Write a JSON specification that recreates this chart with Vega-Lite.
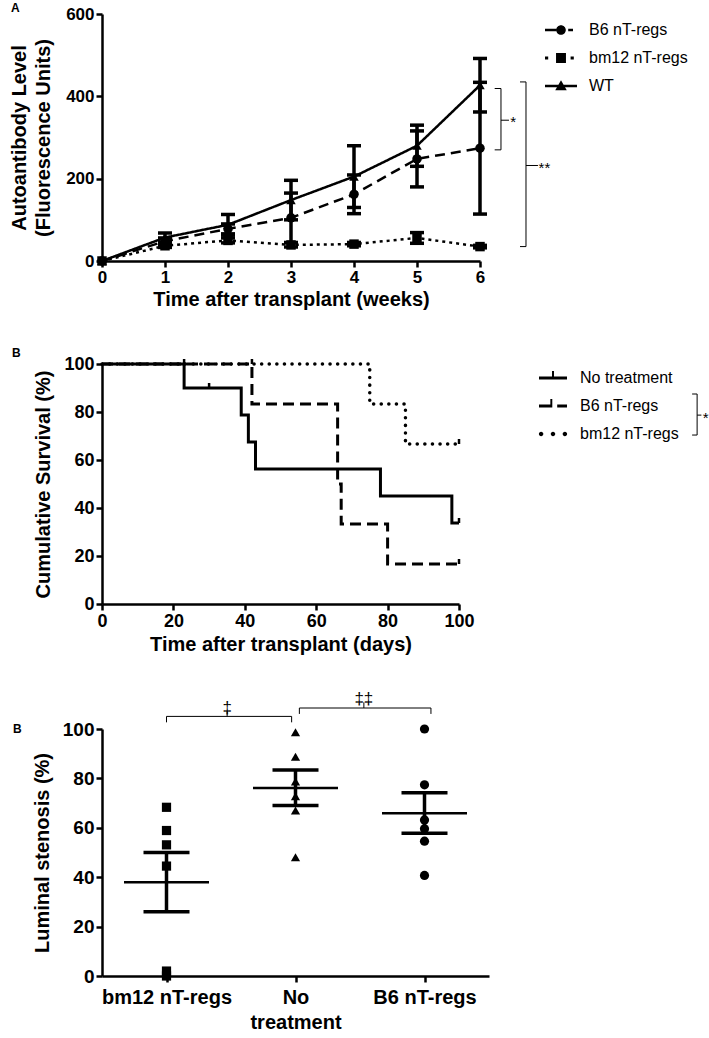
{
  "$schema": "https://vega.github.io/schema/vega-lite/v6.json",
  "background": "white",
  "padding": {"left": 9, "top": 2, "right": 0, "bottom": 5},
  "spacing": 38,
  "resolve": {"scale": {"shape": "independent", "strokeDash": "independent"}, "legend": {"shape": "independent"}},
  "config": {
    "font": "Liberation Sans",
    "view": {"stroke": null},
    "axis": {
      "domainColor": "black", "domainWidth": 2.5, "tickColor": "black", "tickWidth": 2.5, "tickSize": 6,
      "labelColor": "black", "labelFont": "Liberation Sans", "labelFontWeight": "bold", "labelPadding": 2,
      "titleFont": "Liberation Sans", "titleFontWeight": "bold", "titleColor": "black", "titleFontSize": 20,
      "grid": false, "labelFlush": false, "labelOverlap": false
    },
    "legend": {"labelFont": "Liberation Sans", "labelColor": "black", "labelFontSize": 16, "padding": 0, "labelLimit": 300}
  },
  "datasets": {
    "A": [
      {"group": "B6 nT-regs", "week": 0, "mean": 0, "lo": null, "hi": null},
      {"group": "B6 nT-regs", "week": 1, "mean": 48, "lo": 40, "hi": 56},
      {"group": "B6 nT-regs", "week": 2, "mean": 78, "lo": 66, "hi": 90},
      {"group": "B6 nT-regs", "week": 3, "mean": 105, "lo": 45, "hi": 165},
      {"group": "B6 nT-regs", "week": 4, "mean": 162, "lo": 115, "hi": 209},
      {"group": "B6 nT-regs", "week": 5, "mean": 248, "lo": 180, "hi": 316},
      {"group": "B6 nT-regs", "week": 6, "mean": 274, "lo": 114, "hi": 434},
      {"group": "bm12 nT-regs", "week": 0, "mean": 0, "lo": null, "hi": null},
      {"group": "bm12 nT-regs", "week": 1, "mean": 37, "lo": 33, "hi": 41},
      {"group": "bm12 nT-regs", "week": 2, "mean": 50, "lo": 44, "hi": 56},
      {"group": "bm12 nT-regs", "week": 3, "mean": 39, "lo": 34, "hi": 44},
      {"group": "bm12 nT-regs", "week": 4, "mean": 41, "lo": 37, "hi": 45},
      {"group": "bm12 nT-regs", "week": 5, "mean": 56, "lo": 43, "hi": 69},
      {"group": "bm12 nT-regs", "week": 6, "mean": 35, "lo": 32, "hi": 38},
      {"group": "WT", "week": 0, "mean": 0, "lo": null, "hi": null},
      {"group": "WT", "week": 1, "mean": 57, "lo": 46, "hi": 68},
      {"group": "WT", "week": 2, "mean": 88, "lo": 63, "hi": 113},
      {"group": "WT", "week": 3, "mean": 148, "lo": 100, "hi": 196},
      {"group": "WT", "week": 4, "mean": 205, "lo": 130, "hi": 280},
      {"group": "WT", "week": 5, "mean": 280, "lo": 230, "hi": 330},
      {"group": "WT", "week": 6, "mean": 427, "lo": 362, "hi": 492}
    ],
    "annA": [
      {"x": 6.233, "x2": 6.333, "y": 419, "y2": 419},
      {"x": 6.333, "x2": 6.333, "y": 419, "y2": 270},
      {"x": 6.233, "x2": 6.333, "y": 270, "y2": 270},
      {"x": 6.333, "x2": 6.46, "y": 342, "y2": 342},
      {"x": 6.635, "x2": 6.73, "y": 435, "y2": 435},
      {"x": 6.73, "x2": 6.73, "y": 435, "y2": 35},
      {"x": 6.635, "x2": 6.73, "y": 35, "y2": 35},
      {"x": 6.73, "x2": 6.92, "y": 232, "y2": 232}
    ],
    "annAtext": [
      {"x": 6.48, "y": 337, "label": "*"},
      {"x": 6.93, "y": 227, "label": "**"}
    ],
    "B": [
      {"group": "No treatment", "day": 0, "surv": 100},
      {"group": "No treatment", "day": 23, "surv": 90},
      {"group": "No treatment", "day": 39, "surv": 78.75},
      {"group": "No treatment", "day": 41, "surv": 67.5},
      {"group": "No treatment", "day": 43, "surv": 56.25},
      {"group": "No treatment", "day": 78, "surv": 45},
      {"group": "No treatment", "day": 98, "surv": 33.75},
      {"group": "No treatment", "day": 100, "surv": 33.75},
      {"group": "B6 nT-regs", "day": 0, "surv": 100},
      {"group": "B6 nT-regs", "day": 42, "surv": 83.33},
      {"group": "B6 nT-regs", "day": 66, "surv": 50},
      {"group": "B6 nT-regs", "day": 67, "surv": 33.33},
      {"group": "B6 nT-regs", "day": 80, "surv": 16.67},
      {"group": "B6 nT-regs", "day": 100, "surv": 16.67},
      {"group": "bm12 nT-regs", "day": 0, "surv": 100},
      {"group": "bm12 nT-regs", "day": 75, "surv": 83.33},
      {"group": "bm12 nT-regs", "day": 85, "surv": 66.67},
      {"group": "bm12 nT-regs", "day": 100, "surv": 66.67}
    ],
    "Bcens": [
      {"group": "No treatment", "day": 23, "surv": 100},
      {"group": "No treatment", "day": 30, "surv": 90},
      {"group": "No treatment", "day": 100, "surv": 33.75},
      {"group": "B6 nT-regs", "day": 42, "surv": 100},
      {"group": "B6 nT-regs", "day": 100, "surv": 16.67},
      {"group": "bm12 nT-regs", "day": 100, "surv": 66.67}
    ],
    "annB": [
      {"x": 165.3, "x2": 166.7, "y": 87.5, "y2": 87.5},
      {"x": 166.7, "x2": 166.7, "y": 87.5, "y2": 70.4},
      {"x": 165.3, "x2": 166.7, "y": 70.4, "y2": 70.4},
      {"x": 166.7, "x2": 167.9, "y": 78.7, "y2": 78.7}
    ],
    "annBtext": [
      {"x": 168.3, "y": 77.7, "label": "*"}
    ],
    "C": [
      {"group": "bm12 nT-regs", "pos": 1, "value": 68.3},
      {"group": "bm12 nT-regs", "pos": 1, "value": 58.9},
      {"group": "bm12 nT-regs", "pos": 1, "value": 53.1},
      {"group": "bm12 nT-regs", "pos": 1, "value": 44.5},
      {"group": "bm12 nT-regs", "pos": 1, "value": 0},
      {"group": "bm12 nT-regs", "pos": 1, "value": 2},
      {"group": "No treatment", "pos": 2, "value": 98.7},
      {"group": "No treatment", "pos": 2, "value": 88.8},
      {"group": "No treatment", "pos": 2, "value": 78.7},
      {"group": "No treatment", "pos": 2, "value": 72.8},
      {"group": "No treatment", "pos": 2, "value": 67},
      {"group": "No treatment", "pos": 2, "value": 48.1},
      {"group": "B6 nT-regs", "pos": 3, "value": 100},
      {"group": "B6 nT-regs", "pos": 3, "value": 77.4},
      {"group": "B6 nT-regs", "pos": 3, "value": 63.2},
      {"group": "B6 nT-regs", "pos": 3, "value": 59.6},
      {"group": "B6 nT-regs", "pos": 3, "value": 54.6},
      {"group": "B6 nT-regs", "pos": 3, "value": 40.7}
    ],
    "Csum": [
      {"group": "bm12 nT-regs", "pos": 1, "mean": 38, "lo": 26, "hi": 50},
      {"group": "No treatment", "pos": 2, "mean": 76.1, "lo": 69, "hi": 83.4},
      {"group": "B6 nT-regs", "pos": 3, "mean": 65.9, "lo": 57.8, "hi": 74.2}
    ],
    "annC": [
      {"x": 1.0, "x2": 1.97, "y": 105.1, "y2": 105.1},
      {"x": 1.0, "x2": 1.0, "y": 105.1, "y2": 102.7},
      {"x": 1.97, "x2": 1.97, "y": 105.1, "y2": 102.7},
      {"x": 1.47, "x2": 1.47, "y": 105.1, "y2": 107.2},
      {"x": 2.03, "x2": 3.05, "y": 108.5, "y2": 108.5},
      {"x": 2.03, "x2": 2.03, "y": 108.5, "y2": 106.1},
      {"x": 3.05, "x2": 3.05, "y": 108.5, "y2": 106.1},
      {"x": 2.53, "x2": 2.53, "y": 108.5, "y2": 110.8}
    ],
    "annCtext": [
      {"x": 1.47, "y": 106.5, "label": "‡"},
      {"x": 2.53, "y": 110.3, "label": "‡‡"}
    ]
  },
  "vconcat": [
    {
      "width": 378,
      "height": 247,
      "title": {"text": "A", "anchor": "start", "frame": "group", "dx": -91, "dy": 10, "offset": 0, "fontSize": 12, "fontWeight": "bold", "color": "black", "font": "Liberation Sans"},
      "resolve": {"scale": {"shape": "independent"}, "legend": {"shape": "independent"}},
      "layer": [
        {
          "data": {"name": "A"},
          "mark": {"type": "line", "strokeWidth": 2.5, "color": "black"},
          "encoding": {
            "x": {"field": "week", "type": "quantitative", "scale": {"domain": [0, 6], "nice": false},
                  "axis": {"values": [0, 1, 2, 3, 4, 5, 6], "format": "d", "labelFontSize": 17, "titlePadding": 4}, "title": "Time after transplant (weeks)"},
            "y": {"field": "mean", "type": "quantitative", "scale": {"domain": [0, 600], "nice": false},
                  "axis": {"values": [0, 200, 400, 600], "labelFontSize": 17, "titlePadding": 12, "titleLineHeight": 24}, "title": ["Autoantibody Level", "(Fluorescence Units)"]},
            "strokeDash": {"field": "group", "type": "nominal",
                           "scale": {"domain": ["B6 nT-regs", "bm12 nT-regs", "WT"], "range": [[10, 6], [3, 4], [1, 0]]}, "legend": null}
          }
        },
        {
          "data": {"name": "A"},
          "mark": {"type": "rule", "strokeWidth": 3.5, "color": "black"},
          "encoding": {
            "x": {"field": "week", "type": "quantitative"},
            "y": {"field": "lo", "type": "quantitative"},
            "y2": {"field": "hi"}
          }
        },
        {
          "data": {"name": "A"},
          "mark": {"type": "tick", "orient": "horizontal", "size": 14, "thickness": 3.5, "color": "black", "opacity": 1},
          "encoding": {"x": {"field": "week", "type": "quantitative"}, "y": {"field": "hi", "type": "quantitative"}}
        },
        {
          "data": {"name": "A"},
          "mark": {"type": "tick", "orient": "horizontal", "size": 14, "thickness": 3.5, "color": "black", "opacity": 1},
          "encoding": {"x": {"field": "week", "type": "quantitative"}, "y": {"field": "lo", "type": "quantitative"}}
        },
        {
          "data": {"name": "A"},
          "mark": {"type": "point", "filled": true, "opacity": 1, "color": "black", "size": 90},
          "encoding": {
            "x": {"field": "week", "type": "quantitative"},
            "y": {"field": "mean", "type": "quantitative"},
            "shape": {"field": "group", "type": "nominal", "scale": {"domain": ["B6 nT-regs", "bm12 nT-regs", "WT"], "range": ["circle", "square", "triangle-up"]}, "legend": null}
          }
        },
        {
          "data": {"name": "A"},
          "transform": [{"filter": "datum.week === 0"}],
          "mark": {"type": "point", "filled": true, "opacity": 0, "color": "black"},
          "encoding": {
            "x": {"field": "week", "type": "quantitative"},
            "y": {"field": "mean", "type": "quantitative"},
            "shape": {"field": "group", "type": "nominal",
                      "scale": {"domain": ["B6 nT-regs", "bm12 nT-regs", "WT"],
                                "range": ["M-1,-0.08H-0.3V0.08H-1ZM0.3,0A0.3,0.3,0,1,1,-0.3,0A0.3,0.3,0,1,1,0.3,0ZM0.45,-0.08H0.75V0.08H0.45Z",
                                          "M-1,-0.09H-0.8V0.09H-1ZM-0.31,-0.31H0.31V0.31H-0.31ZM0.6,-0.09H0.8V0.09H0.6Z",
                                          "M-1,-0.08H1V0.08H-1ZM0,-0.36L0.36,0.26L-0.36,0.26Z"]},
                      "legend": {"title": null, "orient": "right", "offset": 60, "symbolSize": 1024, "labelOffset": 12, "rowPadding": 4,
                                 "symbolOpacity": 1, "symbolFillColor": "black", "symbolStrokeWidth": 0}}
          }
        },
        {
          "data": {"name": "annA"},
          "mark": {"type": "rule", "strokeWidth": 1, "color": "black"},
          "encoding": {
            "x": {"field": "x", "type": "quantitative"}, "x2": {"field": "x2"},
            "y": {"field": "y", "type": "quantitative"}, "y2": {"field": "y2"}
          }
        },
        {
          "data": {"name": "annAtext"},
          "mark": {"type": "text", "align": "left", "baseline": "middle", "fontSize": 15, "font": "Liberation Sans", "color": "black"},
          "encoding": {
            "x": {"field": "x", "type": "quantitative"},
            "y": {"field": "y", "type": "quantitative"},
            "text": {"field": "label"}
          }
        }
      ]
    },
    {
      "spacing": 35,
      "resolve": {"scale": {"shape": "independent", "strokeDash": "independent"}, "legend": {"shape": "independent"}},
      "vconcat": [
        {
          "width": 357,
          "height": 240,
          "title": {"text": "B", "anchor": "start", "frame": "group", "dx": -90, "dy": 6, "offset": 0, "fontSize": 12, "fontWeight": "bold", "color": "black", "font": "Liberation Sans"},
          "layer": [
            {
              "data": {"name": "B"},
              "transform": [{"filter": "datum.group !== 'bm12 nT-regs'"}],
              "mark": {"type": "line", "interpolate": "step-after", "strokeWidth": 3, "strokeCap": "butt", "color": "black"},
              "encoding": {
                "x": {"field": "day", "type": "quantitative", "scale": {"domain": [0, 100], "nice": false},
                      "axis": {"values": [0, 20, 40, 60, 80, 100], "labelFontSize": 18, "titlePadding": 4}, "title": "Time after transplant (days)"},
                "y": {"field": "surv", "type": "quantitative", "scale": {"domain": [0, 100], "nice": false},
                      "axis": {"values": [0, 20, 40, 60, 80, 100], "labelFontSize": 18, "titlePadding": 10}, "title": "Cumulative Survival (%)"},
                "strokeDash": {"field": "group", "type": "nominal",
                               "scale": {"domain": ["No treatment", "B6 nT-regs"], "range": [[1, 0], [11, 6]]}, "legend": null}
              }
            },
            {
              "data": {"name": "B"},
              "transform": [{"filter": "datum.group === 'bm12 nT-regs'"}],
              "mark": {"type": "line", "interpolate": "step-after", "strokeWidth": 3.5, "strokeCap": "round", "strokeDash": [0.1, 7.5], "color": "black"},
              "encoding": {
                "x": {"field": "day", "type": "quantitative"},
                "y": {"field": "surv", "type": "quantitative"}
              }
            },
            {
              "data": {"name": "Bcens"},
              "mark": {"type": "point", "shape": "M0,0L0,-1", "size": 100, "strokeWidth": 2.5, "color": "black", "filled": false, "opacity": 1},
              "encoding": {
                "x": {"field": "day", "type": "quantitative"},
                "y": {"field": "surv", "type": "quantitative"}
              }
            },
            {
              "data": {"name": "B"},
              "transform": [{"filter": "datum.day === 0"}],
              "mark": {"type": "point", "filled": true, "opacity": 0, "color": "black"},
              "encoding": {
                "x": {"field": "day", "type": "quantitative"},
                "y": {"field": "surv", "type": "quantitative"},
                "shape": {"field": "group", "type": "nominal",
                          "scale": {"domain": ["No treatment", "B6 nT-regs", "bm12 nT-regs"],
                                    "range": ["M-1,-0.1H1V0.1H-1ZM-0.07,0V-0.5H0.07V0Z",
                                              "M-1,-0.1H-0.05V0.1H-1ZM-0.19,0V-0.5H-0.05V0ZM0.3,-0.1H1V0.1H0.3Z",
                                              "M-0.69,0A0.16,0.16,0,1,1,-1.01,0A0.16,0.16,0,1,1,-0.69,0ZM0.16,0A0.16,0.16,0,1,1,-0.16,0A0.16,0.16,0,1,1,0.16,0ZM1.01,0A0.16,0.16,0,1,1,0.69,0A0.16,0.16,0,1,1,1.01,0Z"]},
                          "legend": {"title": null, "orient": "right", "offset": 74, "symbolSize": 784, "labelOffset": 13, "rowPadding": 6,
                                     "symbolOpacity": 1, "symbolFillColor": "black", "symbolStrokeWidth": 0}}
              }
            },
            {
              "data": {"name": "annB"},
              "mark": {"type": "rule", "strokeWidth": 1, "color": "black"},
              "encoding": {
                "x": {"field": "x", "type": "quantitative"}, "x2": {"field": "x2"},
                "y": {"field": "y", "type": "quantitative"}, "y2": {"field": "y2"}
              }
            },
            {
              "data": {"name": "annBtext"},
              "mark": {"type": "text", "align": "left", "baseline": "middle", "fontSize": 15, "font": "Liberation Sans", "color": "black"},
              "encoding": {
                "x": {"field": "x", "type": "quantitative"},
                "y": {"field": "y", "type": "quantitative"},
                "text": {"field": "label"}
              }
            }
          ]
        },
        {
          "width": 387,
          "height": 247,
          "title": {"text": "B", "anchor": "start", "frame": "group", "dx": -89, "dy": 46, "offset": 0, "fontSize": 12, "fontWeight": "bold", "color": "black", "font": "Liberation Sans"},
          "layer": [
            {
              "data": {"name": "annC"},
              "mark": {"type": "rule", "strokeWidth": 1, "color": "black"},
              "encoding": {
                "x": {"field": "x", "type": "quantitative", "scale": {"domain": [0.5, 3.5], "nice": false},
                      "axis": {"values": [1, 2, 3], "labelFontSize": 20, "labelLineHeight": 25, "labelPadding": 5, "labelExpr": "datum.value == 1 ? 'bm12 nT-regs' : datum.value == 2 ? ['No', 'treatment'] : 'B6 nT-regs'"}, "title": null},
                "x2": {"field": "x2"},
                "y": {"field": "y", "type": "quantitative", "scale": {"domain": [0, 100], "nice": false},
                      "axis": {"values": [0, 20, 40, 60, 80, 100], "labelFontSize": 19, "titlePadding": 10}, "title": "Luminal stenosis (%)"},
                "y2": {"field": "y2"}
              }
            },
            {
              "data": {"name": "annCtext"},
              "mark": {"type": "text", "align": "center", "baseline": "alphabetic", "fontSize": 17, "font": "Liberation Sans", "color": "black"},
              "encoding": {
                "x": {"field": "x", "type": "quantitative"},
                "y": {"field": "y", "type": "quantitative"},
                "text": {"field": "label"}
              }
            },
            {
              "data": {"name": "Csum"},
              "mark": {"type": "rule", "strokeWidth": 3.5, "color": "black"},
              "encoding": {
                "x": {"field": "pos", "type": "quantitative"},
                "y": {"field": "lo", "type": "quantitative"},
                "y2": {"field": "hi"}
              }
            },
            {
              "data": {"name": "Csum"},
              "mark": {"type": "tick", "orient": "horizontal", "size": 85, "thickness": 2.5, "color": "black", "opacity": 1},
              "encoding": {"x": {"field": "pos", "type": "quantitative"}, "y": {"field": "mean", "type": "quantitative"}}
            },
            {
              "data": {"name": "Csum"},
              "mark": {"type": "tick", "orient": "horizontal", "size": 46, "thickness": 3.5, "color": "black", "opacity": 1},
              "encoding": {"x": {"field": "pos", "type": "quantitative"}, "y": {"field": "lo", "type": "quantitative"}}
            },
            {
              "data": {"name": "Csum"},
              "mark": {"type": "tick", "orient": "horizontal", "size": 46, "thickness": 3.5, "color": "black", "opacity": 1},
              "encoding": {"x": {"field": "pos", "type": "quantitative"}, "y": {"field": "hi", "type": "quantitative"}}
            },
            {
              "data": {"name": "C"},
              "mark": {"type": "point", "filled": true, "opacity": 1, "color": "black", "size": 85},
              "encoding": {
                "x": {"field": "pos", "type": "quantitative"},
                "y": {"field": "value", "type": "quantitative"},
                "shape": {"field": "group", "type": "nominal", "scale": {"domain": ["bm12 nT-regs", "No treatment", "B6 nT-regs"], "range": ["square", "triangle-up", "circle"]}, "legend": null}
              }
            }
          ]
        }
      ]
    }
  ]
}
